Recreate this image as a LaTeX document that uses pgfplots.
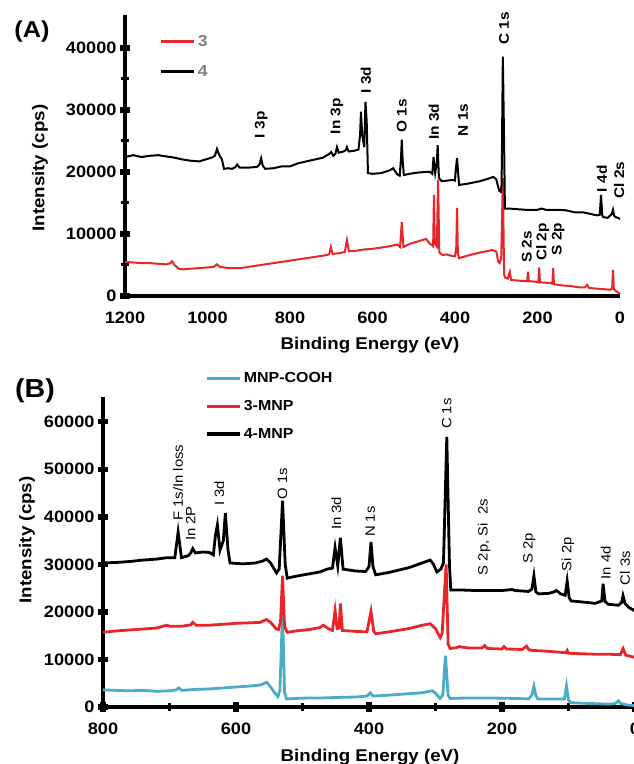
\documentclass[border=0pt]{standalone}
\usepackage{fontspec}
\setmainfont{Liberation Sans}[FakeStretch=1.1]
\usepackage{pgfplots}
\pgfplotsset{compat=1.18}
\definecolor{xred}{RGB}{232,38,42}
\definecolor{xcyan}{RGB}{75,172,198}
\definecolor{xgray}{RGB}{128,128,128}
\newcommand{\fs}[1]{\fontsize{#1}{#1}\selectfont}

\pgfplotsset{xps/.style={
  scale only axis, axis lines=left,
  axis line style={-, line width=4pt},
  clip=false, x dir=reverse, ymin=0,
  tick align=center,
  major tick length=10pt, minor tick length=8pt,
  major tick style={black, line width=5.5pt},
  minor tick style={black, line width=3pt},
  /pgf/number format/assume math mode=true,
  /pgf/number format/1000 sep={},
  scaled ticks=false,
  ticklabel style={font=\bfseries\fs{16.5}},
  xticklabel style={yshift=-7pt},
  label style={font=\bfseries\fs{17}},
  legend cell align=left,
}}

\begin{document}
\begin{tikzpicture}
\useasboundingbox (0,0) rectangle (634pt,764pt);

% ---------- panel A ----------
\begin{axis}[xps,
  at={(125pt,468pt)}, anchor=south west,
  width=495pt, height=281pt,
  xmin=0, xmax=1200, ymax=45300,
  xtick={0,200,...,1200}, ytick={0,10000,...,40000},
  minor y tick num=1, xtick style={draw=none},
  xlabel={Binding Energy (eV)}, ylabel={Intensity (cps)},
  xlabel style={at={(axis description cs:0.495,-0.174)}, anchor=center},
  ylabel style={at={(axis description cs:-0.172,0.455)}, anchor=center},
  legend style={at={(axis description cs:0.07,0.935)}, anchor=north west,
    draw=none, fill=none, inner sep=0pt, row sep=13pt,
    font=\bfseries\fs{16}\color{xgray}},
  legend image code/.code={\draw[#1, line width=3pt] (0pt,0pt) -- (33pt,0pt);},
]
\addplot[xred, line width=2pt] coordinates {
(1200,5500) (1180,5400) (1160,5300) (1140,5300) (1120,5200) (1100,5100) (1090,5300)
(1086,5600) (1080,5000) (1070,4400) (1060,4300) (1040,4400) (1020,4500) (1000,4600)
(985,4700) (977,5100) (970,4700) (950,4500) (920,4500) (900,4700) (880,4900) (860,5100)
(840,5300) (820,5500) (800,5700) (780,5900) (760,6100) (740,6300) (720,6500) (705,6700)
(701,7900) (697,6800) (680,6900) (667,7100) (662,9000) (657,7200) (640,7300) (620,7500)
(600,7600) (580,7800) (560,8000) (540,8300) (533,7900) (529,11900) (525,7900) (510,8400)
(490,8800) (470,9200) (462,8500) (456,8200) (453,8000) (451,16300) (449,8500) (444,8000)
(441,18700) (438,7000) (430,6600) (420,6700) (410,6500) (400,6400) (397,7800) (395,14200)
(393,6800) (390,6100) (370,6500) (340,7000) (310,7400) (300,7200) (295,5500) (292,5300)
(288,6000) (284,19000) (281,3500) (279,3000) (272,2800) (267,3900) (264,2600) (250,2500)
(230,2400) (225,2400) (223,3900) (221,2400) (205,2300) (198,2200) (196,4600) (194,2200)
(170,2100) (164,2000) (162,4500) (160,1900) (140,1700) (120,1600) (100,1400) (85,1400)
(80,1800) (75,1300) (60,1200) (40,1100) (25,1000) (19,1200) (17,4200) (15,1100) (10,800)
(5,600) (0,300)};
\addlegendentry{3}
\addplot[black, line width=2pt] coordinates {
(1200,22400) (1180,22700) (1160,22400) (1140,22600) (1120,22700) (1100,22500) (1080,22300)
(1060,22000) (1040,21800) (1020,21700) (1000,22100) (990,22300) (982,22600) (977,23700)
(972,22800) (965,22000) (960,20500) (950,20600) (940,20500) (932,20800) (928,21200)
(922,20700) (900,20700) (880,20800) (874,21200) (870,22200) (866,21000) (860,20500)
(840,20600) (820,20900) (800,20900) (780,21400) (760,21700) (740,22000) (720,22300)
(705,22900) (700,23200) (695,22600) (690,22900) (686,24000) (682,23100) (670,23300)
(665,23500) (662,24000) (658,23300) (645,23400) (634,23600) (630,26000) (628,29700)
(625,26000) (620,24000) (617,31300) (614,28000) (611,19800) (600,19700) (580,19800)
(560,20200) (550,20600) (540,19600) (534,19400) (531,22000) (529,25200) (527,22000)
(524,19500) (510,19700) (490,19900) (470,20000) (460,20000) (455,19700) (452,22400)
(448,19800) (444,21500) (442,24300) (439,19000) (432,18500) (420,18600) (405,18700)
(400,18600) (398,20500) (395,22200) (392,19500) (390,17900) (370,18100) (340,18500)
(320,18900) (307,19200) (300,18800) (293,17000) (289,16800) (287,18000) (284,38600)
(281,25000) (279,14100) (270,14100) (250,14000) (230,13900) (200,13900) (190,14100)
(180,13900) (150,13900) (130,13800) (110,13500) (90,13500) (70,13200) (55,13000)
(49,13100) (46,16300) (43,13000) (40,12700) (30,12600) (20,13200) (17,13900) (14,12900)
(10,12700) (5,12600) (0,12400)};
\addlegendentry{4}
\begin{scope}[every node/.style={rotate=90, font=\bfseries\fs{14}}]
\node at (axis cs:870,27600) {I 3p};
\node at (axis cs:686,29000) {In 3p};
\node at (axis cs:616,34800) {I 3d};
\node at (axis cs:529,29000) {O 1s};
\node at (axis cs:451,28100) {In 3d};
\node at (axis cs:380,28400) {N 1s};
\node at (axis cs:281,43100) {C 1s};
\node at (axis cs:44,18900) {I 4d};
\node at (axis cs:2,18700) {Cl 2s};
\node at (axis cs:226,7900) {S 2s};
\node at (axis cs:187,8700) {Cl 2p};
\node at (axis cs:150,9200) {S 2p};
\end{scope}
\end{axis}
\node[font=\bfseries\fs{23}] at (32pt,732pt) {(A)};

% ---------- panel B ----------
\begin{axis}[xps,
  at={(103pt,57pt)}, anchor=south west,
  width=532pt, height=310pt,
  xmin=0, xmax=800, ymax=65200,
  xtick={0,200,...,800}, minor x tick num=1,
  ytick={0,10000,...,60000},
  xlabel={Binding Energy (eV)}, ylabel={Intensity (cps)},
  xlabel style={at={(axis description cs:0.502,-0.161)}, anchor=center},
  ylabel style={at={(axis description cs:-0.143,0.539)}, anchor=center},
  legend style={at={(axis description cs:0.192,1.085)}, anchor=north west,
    draw=none, fill=none, inner sep=0pt, row sep=12pt,
    font=\bfseries\fs{14.5}},
  legend image code/.code={\draw[#1, line width=3.5pt] (0pt,0pt) -- (33pt,0pt);},
]
\addplot[xcyan, line width=2.8pt] coordinates {
(800,3600) (780,3500) (760,3400) (740,3500) (720,3300) (700,3400) (690,3600) (686,4000)
(682,3500) (660,3700) (640,3800) (620,4000) (600,4200) (580,4400) (565,4600) (560,4800)
(554,5200) (548,4200) (542,3000) (537,2200) (534,3500) (530,20000) (527,3000) (524,1700)
(510,1800) (490,1900) (470,1900) (450,2000) (420,2100) (403,2300) (398,3000) (394,2300)
(380,2400) (350,2700) (320,3000) (305,3400) (300,2900) (293,1800) (289,2500) (285,10800)
(281,2500) (278,1800) (250,1900) (220,1900) (180,1800) (160,1700) (155,2500) (152,4400)
(149,2400) (146,1700) (120,1700) (106,1700) (103,4400) (100,1500) (97,900) (80,800)
(60,700) (40,600) (30,700) (25,1300) (21,700) (10,400) (0,300)};
\addlegendentry{MNP-COOH}
\addplot[xred, line width=2.8pt] coordinates {
(800,15700) (780,16000) (760,16200) (740,16400) (720,16600) (704,17200) (700,17000)
(680,17000) (668,17300) (665,17800) (660,17200) (640,17200) (620,17400) (600,17600)
(580,17700) (564,17800) (554,18400) (548,17800) (540,16500) (536,16300) (533,18000)
(530,27600) (527,17000) (523,15700) (510,16000) (490,16300) (474,16700) (469,17200)
(460,16400) (455,16100) (451,20300) (448,16500) (445,16600) (443,21800) (440,16100)
(420,15900) (403,15800) (397,20100) (393,16000) (390,15400) (370,15800) (340,16500)
(320,17200) (308,17500) (300,16500) (293,14600) (290,15500) (284,30000) (281,13200)
(278,12300) (268,12500) (265,12700) (250,12400) (230,12400) (226,12900) (222,12300)
(200,12200) (197,12700) (193,12200) (170,12100) (163,12800) (160,12100) (155,11900)
(140,11800) (120,11600) (104,11400) (102,11900) (100,11300) (80,11200) (60,11100)
(40,11100) (22,11000) (18,12300) (14,10900) (5,10600) (0,10400)};
\addlegendentry{3-MNP}
\addplot[black, line width=2.8pt] coordinates {
(800,30300) (780,30400) (760,30600) (740,30900) (720,31100) (704,31400) (692,31400)
(687,36800) (682,31400) (672,31800) (668,32400) (665,33300) (661,32400) (650,32600)
(640,32500) (634,32000) (631,36000) (628,38300) (624,33000) (619,35000) (616,40800)
(612,33000) (609,30300) (590,30100) (570,30300) (560,30700) (554,31100) (548,30300)
(539,28200) (535,29000) (530,43400) (526,30000) (523,27100) (510,27500) (490,28000)
(474,28400) (463,29000) (455,29200) (451,33500) (447,29700) (443,35600) (439,29000)
(420,28600) (405,28500) (400,29500) (397,34700) (394,29500) (390,27800) (370,28300)
(340,29300) (320,30300) (308,30900) (303,30000) (298,28400) (292,29000) (288,30300)
(283,56800) (279,30000) (277,24600) (260,24600) (240,24500) (220,24500) (200,24500)
(185,24700) (180,24500) (160,24300) (155,24800) (152,27600) (149,24200) (145,23800)
(130,23900) (122,24200) (118,24500) (112,23800) (105,23500) (102,26500) (99,23000)
(96,22300) (80,22100) (60,21800) (50,22300) (48,25900) (45,22200) (40,21600) (25,21400)
(20,22000) (18,23400) (15,21800) (10,21000) (0,20200)};
\addlegendentry{4-MNP}
\begin{scope}[every node/.style={rotate=90, font=\fs{13.5}}]
\node at (axis cs:687,47200) {F 1s/In loss};
\node at (axis cs:668,38600) {In 2P};
\node at (axis cs:625,44900) {I 3d};
\node at (axis cs:530,47000) {O 1s};
\node at (axis cs:449,40700) {In 3d};
\node at (axis cs:398,39000) {N 1s};
\node at (axis cs:283,61700) {C 1s};
\node at (axis cs:227,35700) {S 2p, Si\ \ 2s};
\node at (axis cs:159,33400) {S 2p};
\node at (axis cs:101,32100) {Si 2p};
\node at (axis cs:44,30300) {In 4d};
\node at (axis cs:15,29200) {Cl 3s};
\end{scope}
\end{axis}
\node[font=\bfseries\fs{26}] at (35pt,373pt) {(B)};
\end{tikzpicture}
\end{document}
